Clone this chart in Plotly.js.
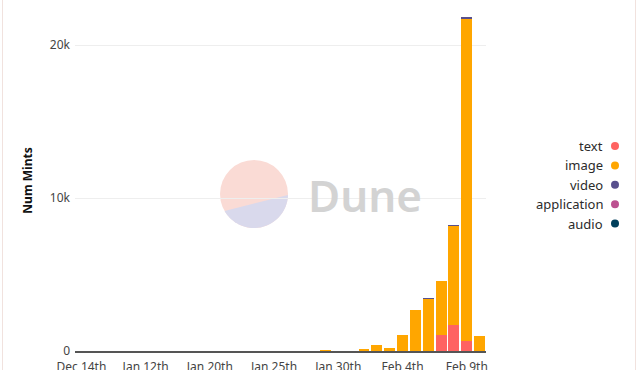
<!DOCTYPE html>
<html>
<head>
<meta charset="utf-8">
<script src="https://cdn.plot.ly/plotly-3.0.1.min.js"></script>
<style>
  html, body { margin: 0; padding: 0; background: #fff; }
  #chart { width: 640px; height: 370px; }
  .frame { position: absolute; left: 2px; top: 0; width: 634px; height: 370px;
           border-left: 1px solid #f1e2de; border-right: 1px solid #f1e2de;
           box-sizing: border-box; pointer-events: none; }
</style>
</head>
<body>
<div id="chart"></div>
<div class="frame"></div>
<script>
// Daily mint counts by content type
const dates = ['Dec 14th','Dec 21st','Dec 29th','Jan 4th','Jan 8th','Jan 12th','Jan 14th','Jan 15th',
  'Jan 17th','Jan 18th','Jan 20th','Jan 21st','Jan 22nd','Jan 23rd','Jan 24th','Jan 25th','Jan 26th',
  'Jan 27th','Jan 28th','Jan 29th','Jan 30th','Jan 31st','Feb 1st','Feb 2nd','Feb 3rd','Feb 4th',
  'Feb 5th','Feb 6th','Feb 7th','Feb 8th','Feb 9th','Feb 10th'];
const textMints = [0,0,0,0,0,0,0,0,0,0,0,0,0,0,0,0,0,0,0,0,0,0,0,0,0,0,0,0,1040,1720,680,0];
const imageMints = [3,1,2,4,2,6,3,2,5,4,8,6,5,9,7,12,10,14,20,80,30,30,150,400,170,1070,2700,3400,3560,6420,21030,1000];
const videoMints = [0,0,0,0,0,0,0,0,0,0,0,0,0,0,0,0,0,0,0,0,0,0,0,0,0,0,0,50,0,80,90,0];
const applicationMints = [0,0,0,0,0,0,0,0,0,0,0,0,0,0,0,0,0,0,0,0,0,0,0,0,0,0,0,0,0,0,0,0];
const audioMints = [0,0,0,0,0,0,0,0,0,0,0,0,0,0,0,0,0,0,0,0,0,0,0,0,0,0,0,0,0,0,0,0];
const seriesNames = ['text','image','video','application','audio'];
const seriesColors = ['#ff6361','#ffa600','#58508d','#bc5090','#003f5c'];
const tickDates = ['Dec 14th','Jan 12th','Jan 20th','Jan 25th','Jan 30th','Feb 4th','Feb 9th'];

const seriesValues = [textMints, imageMints, videoMints, applicationMints, audioMints];

// plot area in pixels
const L = 75, R = 486, T = 10, B = 351;
const px = x => (x - L) / (R - L);
const py = y => (B - y) / (B - T);

const traces = seriesNames.map((name, i) => ({
  type: 'bar', name: name, x: dates, y: seriesValues[i],
  marker: { color: seriesColors[i], line: { width: 0 } },
  showlegend: false, hoverinfo: 'x+y+name'
}));

// legend: label on the left, round swatch on the right
const annotations = [];
const shapes = [];
seriesNames.forEach((name, i) => {
  const cy = 146 + i * 19.4;
  annotations.push({
    xref: 'paper', yref: 'paper', x: px(605), y: py(cy), xanchor: 'right', yanchor: 'middle',
    text: name, showarrow: false, font: { size: 13, color: '#2b2b2b' }
  });
  shapes.push({
    type: 'circle', xref: 'paper', yref: 'paper', layer: 'above',
    x0: px(611), x1: px(619), y0: py(cy + 4), y1: py(cy - 4),
    fillcolor: seriesColors[i], line: { width: 0 }
  });
});

// watermark: two-tone disc and wordmark
const cx = 254, cyc = 194, r = 34;
shapes.push({
  type: 'circle', xref: 'paper', yref: 'paper', layer: 'between',
  x0: px(cx - r), x1: px(cx + r), y0: py(cyc + r), y1: py(cyc - r),
  fillcolor: '#fadbd5', line: { width: 0 }
});
const a0 = Math.atan2(1, 34), a1 = Math.atan2(19, -33);
let path = '';
const steps = 40;
for (let k = 0; k <= steps; k++) {
  const a = a0 + (a1 - a0) * k / steps;
  const X = cx + r * Math.cos(a), Y = cyc + r * Math.sin(a);
  path += (k === 0 ? 'M ' : ' L ') + px(X).toFixed(5) + ',' + py(Y).toFixed(5);
}
path += ' Z';
shapes.push({
  type: 'path', xref: 'paper', yref: 'paper', layer: 'between', path: path,
  fillcolor: '#d9d9ec', line: { width: 0 }
});
annotations.push({
  xref: 'paper', yref: 'paper', x: px(306), y: py(195), xanchor: 'left', yanchor: 'middle',
  text: 'Dune', showarrow: false,
  font: { size: 44, color: '#d3d3d3', family: 'Noto Sans', weight: 600 }
});

const layout = {
  width: 640, height: 370,
  margin: { l: L, r: 640 - R, t: T, b: 370 - B, pad: 0 },
  paper_bgcolor: '#ffffff', plot_bgcolor: '#ffffff',
  font: { family: 'Noto Sans, sans-serif', size: 12, color: '#444' },
  barmode: 'stack', bargap: 0.15,
  showlegend: false,
  xaxis: {
    type: 'category', range: [-0.5, dates.length - 0.5],
    tickmode: 'array', tickvals: tickDates, ticktext: tickDates,
    showgrid: false, zeroline: false, showline: true, linecolor: '#555', linewidth: 1.5,
    ticks: '', ticklabelstandoff: 4, tickfont: { size: 12, color: '#444' }, automargin: false
  },
  yaxis: {
    range: [0, (B - T) / 15.3 * 1000],
    tickvals: [0, 10000, 20000], ticktext: ['0', '10k', '20k'],
    showgrid: true, gridcolor: '#eeeeee', gridwidth: 1, zeroline: false, showline: false,
    ticks: '', ticklabelstandoff: 4, tickfont: { size: 12, color: '#444' }, automargin: false,
    title: { text: 'Num Mints', standoff: 14, font: { size: 12, color: '#111', weight: 'bold' } }
  },
  shapes: shapes,
  annotations: annotations
};

Plotly.newPlot('chart', traces, layout, { displayModeBar: false, staticPlot: true });
</script>
</body>
</html>
